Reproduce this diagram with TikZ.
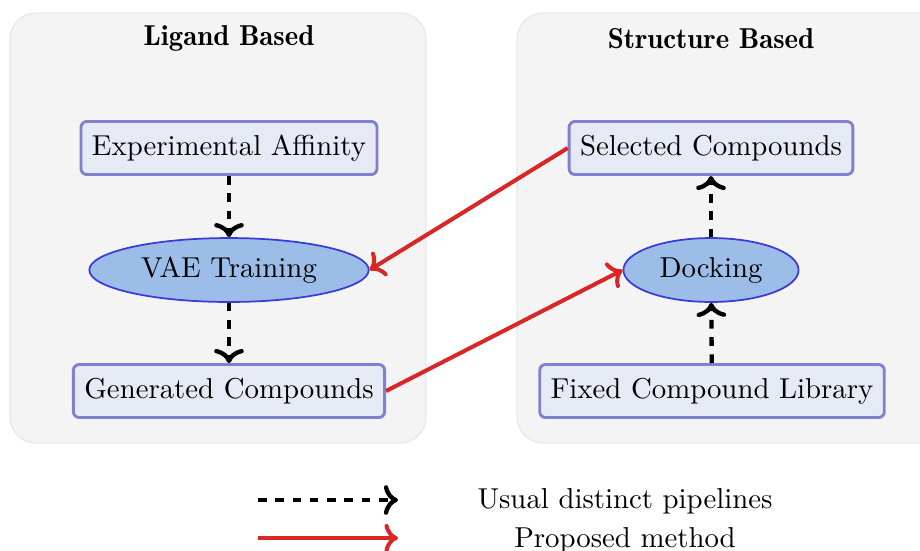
\documentclass[tikz,border=0pt]{standalone}
\usetikzlibrary{shapes.geometric,arrows.meta}
\definecolor{groupfill}{HTML}{F4F4F4}
\definecolor{groupline}{HTML}{E8E8E8}
\definecolor{boxfill}{HTML}{E6EAF4}
\definecolor{boxline}{HTML}{8080D0}
\definecolor{ellfill}{HTML}{9BBDE8}
\definecolor{ellline}{HTML}{3A3AD6}
\definecolor{propred}{HTML}{D92626}
\tikzset{
  group/.style={fill=groupfill,draw=groupline,line width=0.4pt,rounded corners=9pt},
  title/.style={font=\fontseries{b}\selectfont,inner sep=0pt},
  stepbox/.style={rectangle,rounded corners=2pt,fill=boxfill,draw=boxline,line width=1pt,
    minimum height=18.4pt,inner xsep=3.8pt,inner ysep=0pt},
  process/.style={ellipse,fill=ellfill,draw=ellline,line width=0.6pt,
    minimum height=22.2pt,inner sep=0pt},
  usual/.style={->,dashed,line width=1.5pt,black},
  proposed/.style={->,line width=1.4pt,propred},
  lbl/.style={inner sep=0pt}
}
\begin{document}
\begin{tikzpicture}[x=0.3472pt,y=-0.3472pt]
  \useasboundingbox (0,0) rectangle (920,550);

  % panels
  \draw[group] (10,13) rectangle (426,443);
  \draw[group] (517,13) rectangle (960,443);
  \node[title] (tl) at (229,38) {Ligand Based};
  \node[title] (tr) at (711,39) {Structure Based};

  % ligand based pipeline
  \node[stepbox] (exp) at (229,148) {Experimental Affinity};
  \node[process,minimum width=97pt] (vae) at (229,270) {VAE Training};
  \node[stepbox] (gen) at (229,391) {Generated Compounds};

  % structure based pipeline
  \node[stepbox] (sel) at (711,148) {Selected Compounds};
  \node[process,minimum width=60.8pt] (dock) at (711,270) {Docking};
  \node[stepbox] (lib) at (712,391) {Fixed Compound Library};

  % usual pipelines
  \draw[usual] (exp) -- (vae);
  \draw[usual] (vae) -- (gen);
  \draw[usual] (lib) -- (dock);
  \draw[usual] (dock) -- (sel);

  % proposed method
  \draw[proposed] (sel.west) -- (vae.east);
  \draw[proposed] (gen.east) -- (dock.west);

  % legend
  \coordinate (u0) at (258,500);
  \coordinate (u1) at (398,500);
  \coordinate (p0) at (258,538);
  \coordinate (p1) at (398,538);
  \draw[usual] (u0) -- (u1);
  \draw[proposed] (p0) -- (p1);
  \node[lbl] (ul) at (625,501) {Usual distinct pipelines};
  \node[lbl] (pl) at (625,540) {Proposed method};
\end{tikzpicture}
\end{document}
